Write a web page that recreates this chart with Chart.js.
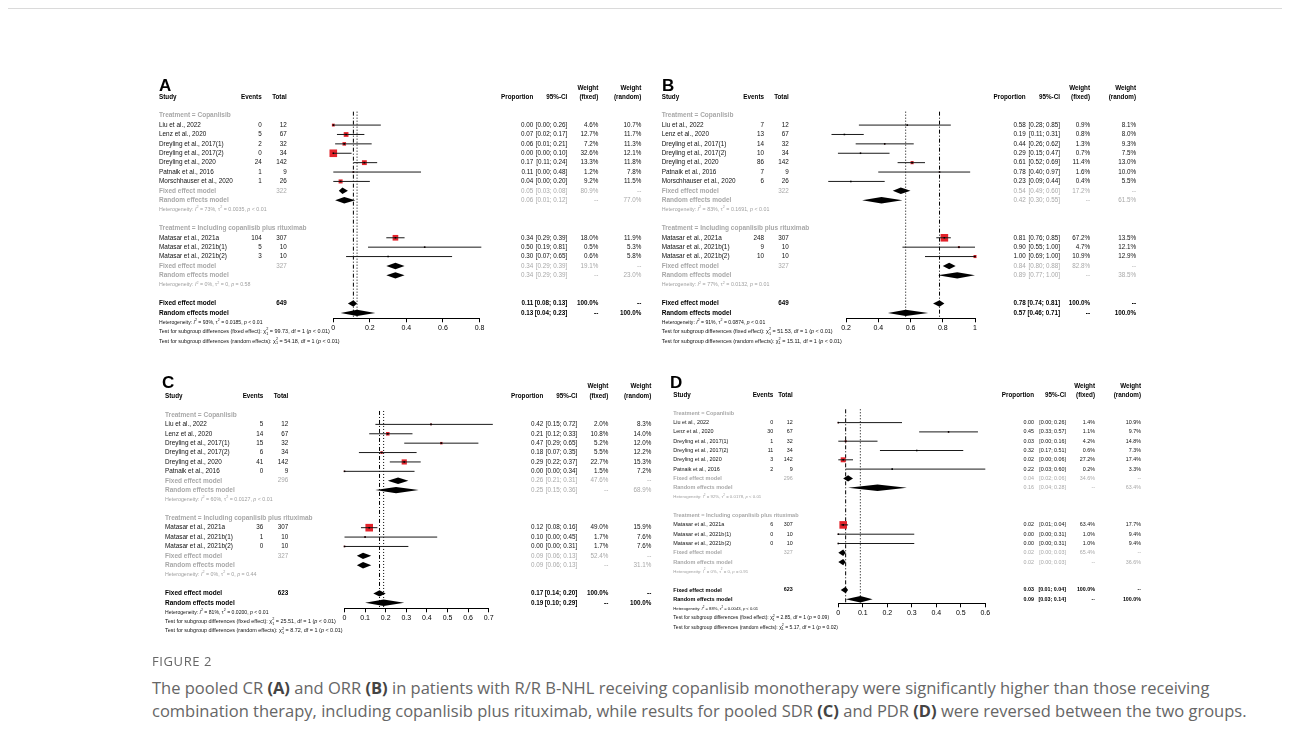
<!DOCTYPE html>
<html><head><meta charset="utf-8">
<script src="https://cdn.jsdelivr.net/npm/chart.js@4.4.1/dist/chart.umd.min.js"></script>
<style>
html,body{margin:0;padding:0;background:#fff;}
body{width:1290px;height:742px;overflow:hidden;position:relative;font-family:'Liberation Sans',Arial,sans-serif;}
canvas{position:absolute;}
#topline{position:absolute;left:8px;right:8px;top:8px;height:0;border-top:1px solid #dadada;}
#figlabel{position:absolute;left:152px;top:652px;font:13px 'Open Sans',sans-serif;color:#666;letter-spacing:0.6px;}
#caption{position:absolute;left:152px;top:676px;font:16.5px/23px 'Open Sans',sans-serif;color:#666;white-space:nowrap;}
#caption b{color:#444;font-weight:700;}
</style></head><body>
<div id="topline"></div>
<canvas id="cA"></canvas><canvas id="cB"></canvas><canvas id="cC"></canvas><canvas id="cD"></canvas>
<div id="figlabel">FIGURE 2</div>
<div id="caption">The pooled CR <b>(A)</b> and ORR <b>(B)</b> in patients with R/R B-NHL receiving copanlisib monotherapy were significantly higher than those receiving<br>combination therapy, including copanlisib plus rituximab, while results for pooled SDR <b>(C)</b> and PDR <b>(D)</b> were reversed between the two groups.</div>
<script>
// ---------------- DATA ----------------
const groupLabels = ["Treatment = Copanlisib", "Treatment = Including copanlisib plus rituximab"];
const studiesAB = ["Liu et al., 2022","Lenz et al., 2020","Dreyling et al., 2017(1)","Dreyling et al., 2017(2)","Dreyling et al., 2020","Patnaik et al., 2016","Morschhauser et al., 2020","Matasar et al., 2021a","Matasar et al., 2021b(1)","Matasar et al., 2021b(2)"];
const studiesCD = ["Liu et al., 2022","Lenz et al., 2020","Dreyling et al., 2017(1)","Dreyling et al., 2017(2)","Dreyling et al., 2020","Patnaik et al., 2016","Matasar et al., 2021a","Matasar et al., 2021b(1)","Matasar et al., 2021b(2)"];
const totalAB = [12,67,32,34,142,9,26,307,10,10];
const totalCD = [12,67,32,34,142,9,307,10,10];
// summary order: subgroup1 fixed, subgroup1 random, subgroup2 fixed, subgroup2 random, overall fixed, overall random

// Panel A (CR)
const A_events = [0,5,2,0,24,1,1,104,5,3];
const A_prop   = [0.00,0.07,0.06,0.00,0.17,0.11,0.04,0.34,0.50,0.30];
const A_lower  = [0.00,0.02,0.01,0.00,0.11,0.00,0.00,0.29,0.19,0.07];
const A_upper  = [0.26,0.17,0.21,0.10,0.24,0.48,0.20,0.39,0.81,0.65];
const A_wFixed = [4.6,12.7,7.2,32.6,13.3,1.2,9.2,18.0,0.5,0.6];
const A_wRandom= [10.7,11.7,11.3,12.1,11.8,7.8,11.5,11.9,5.3,5.8];
const A_sumEst = [0.05,0.06,0.34,0.34,0.11,0.13];
const A_sumLow = [0.03,0.01,0.29,0.29,0.08,0.04];
const A_sumUp  = [0.08,0.12,0.39,0.39,0.13,0.23];
const A_sumW   = [80.9,77.0,19.1,23.0,100.0,100.0];
const A_sumN   = [322,327,649];
const A_hetI2  = ["73%","0%","93%"];
const A_hetTau = ["0.0035","0","0.0185"];
const A_hetP   = ["< 0.01","= 0.58","< 0.01"];
const A_chi2   = ["99.73","54.18"];
const A_chiP   = ["< 0.01","< 0.01"];
const A_ticks  = [0,0.2,0.4,0.6,0.8];

// Panel B (ORR)
const B_events = [7,13,14,10,86,7,6,248,9,10];
const B_prop   = [0.58,0.19,0.44,0.29,0.61,0.78,0.23,0.81,0.90,1.00];
const B_lower  = [0.28,0.11,0.26,0.15,0.52,0.40,0.09,0.76,0.55,0.69];
const B_upper  = [0.85,0.31,0.62,0.47,0.69,0.97,0.44,0.85,1.00,1.00];
const B_wFixed = [0.9,0.8,1.3,0.7,11.4,1.6,0.4,67.2,4.7,10.9];
const B_wRandom= [8.1,8.0,9.3,7.5,13.0,10.0,5.5,13.5,12.1,12.9];
const B_sumEst = [0.54,0.42,0.84,0.89,0.78,0.57];
const B_sumLow = [0.49,0.30,0.80,0.77,0.74,0.46];
const B_sumUp  = [0.60,0.55,0.88,1.00,0.81,0.71];
const B_sumW   = [17.2,61.5,82.8,38.5,100.0,100.0];
const B_sumN   = [322,327,649];
const B_hetI2  = ["83%","77%","91%"];
const B_hetTau = ["0.1691","0.0132","0.0874"];
const B_hetP   = ["< 0.01","= 0.01","< 0.01"];
const B_chi2   = ["51.53","15.11"];
const B_chiP   = ["< 0.01","< 0.01"];
const B_ticks  = [0.2,0.4,0.6,0.8,1];

// Panel C (SDR)
const C_events = [5,14,15,6,41,0,36,1,0];
const C_prop   = [0.42,0.21,0.47,0.18,0.29,0.00,0.12,0.10,0.00];
const C_lower  = [0.15,0.12,0.29,0.07,0.22,0.00,0.08,0.00,0.00];
const C_upper  = [0.72,0.33,0.65,0.35,0.37,0.34,0.16,0.45,0.31];
const C_wFixed = [2.0,10.8,5.2,5.5,22.7,1.5,49.0,1.7,1.7];
const C_wRandom= [8.3,14.0,12.0,12.2,15.3,7.2,15.9,7.6,7.6];
const C_sumEst = [0.26,0.25,0.09,0.09,0.17,0.19];
const C_sumLow = [0.21,0.15,0.06,0.06,0.14,0.10];
const C_sumUp  = [0.31,0.36,0.13,0.13,0.20,0.29];
const C_sumW   = [47.6,68.9,52.4,31.1,100.0,100.0];
const C_sumN   = [296,327,623];
const C_hetI2  = ["60%","0%","81%"];
const C_hetTau = ["0.0127","0","0.0200"];
const C_hetP   = ["< 0.01","= 0.44","< 0.01"];
const C_chi2   = ["25.51","8.72"];
const C_chiP   = ["< 0.01","< 0.01"];
const C_ticks  = [0,0.1,0.2,0.3,0.4,0.5,0.6,0.7];

// Panel D (PDR)
const D_events = [0,30,1,11,3,2,6,0,0];
const D_prop   = [0.00,0.45,0.03,0.32,0.02,0.22,0.02,0.00,0.00];
const D_lower  = [0.00,0.33,0.00,0.17,0.00,0.03,0.01,0.00,0.00];
const D_upper  = [0.26,0.57,0.16,0.51,0.06,0.60,0.04,0.31,0.31];
const D_wFixed = [1.4,1.1,4.2,0.6,27.2,0.2,63.4,1.0,1.0];
const D_wRandom= [10.9,9.7,14.8,7.3,17.4,3.3,17.7,9.4,9.4];
const D_sumEst = [0.04,0.16,0.02,0.02,0.03,0.09];
const D_sumLow = [0.02,0.04,0.00,0.00,0.01,0.03];
const D_sumUp  = [0.06,0.28,0.03,0.03,0.04,0.14];
const D_sumW   = [34.6,63.4,65.4,36.6,100.0,100.0];
const D_sumN   = [296,327,623];
const D_hetI2  = ["92%","0%","88%"];
const D_hetTau = ["0.0178","0","0.0043"];
const D_hetP   = ["< 0.01","= 0.91","< 0.01"];
const D_chi2   = ["2.85","5.17"];
const D_chiP   = ["= 0.09","= 0.02"];
const D_ticks  = [0,0.1,0.2,0.3,0.4,0.5,0.6];

// ---------------- LAYOUT ----------------
const FF = "'Liberation Sans', Arial, sans-serif";
const RED = '#e3232b', GRAY = '#a8a8a8', HGRAY = '#a0a0a0';

const panels = [
 {id:'cA', letter:'A', box:{l:150,t:72,w:500,h:280}, plotL:333.3, plotR:479.5, axisY:318.3, row0:115.7, rowH:9.39,
  letterX:159, letterBase:90.5, weightY:88.6, headerY:97.3, fsBody:1, fsHet:1, fsTest:1,
  cols:{study:159, events:261.7, total:286.7, prop:533.3, ci:567.3, wf:598.3, wr:641.3},
  names:studiesAB, n1:7, events:A_events, total:totalAB, prop:A_prop, lower:A_lower, upper:A_upper, wF:A_wFixed, wR:A_wRandom,
  sEst:A_sumEst, sLow:A_sumLow, sUp:A_sumUp, sW:A_sumW, sN:A_sumN, hI2:A_hetI2, hTau:A_hetTau, hP:A_hetP, chi:A_chi2, chiP:A_chiP, ticks:A_ticks},
 {id:'cB', letter:'B', box:{l:652,t:72,w:500,h:280}, plotL:846, plotR:975, axisY:318.3, row0:115.7, rowH:9.39,
  letterX:662, letterBase:90.5, weightY:88.6, headerY:97.3, fsBody:1, fsHet:1, fsTest:1,
  cols:{study:661.7, events:764, total:788.7, prop:1025.7, ci:1060, wf:1090, wr:1136},
  names:studiesAB, n1:7, events:B_events, total:totalAB, prop:B_prop, lower:B_lower, upper:B_upper, wF:B_wFixed, wR:B_wRandom,
  sEst:B_sumEst, sLow:B_sumLow, sUp:B_sumUp, sW:B_sumW, sN:B_sumN, hI2:B_hetI2, hTau:B_hetTau, hP:B_hetP, chi:B_chi2, chiP:B_chiP, ticks:B_ticks},
 {id:'cC', letter:'C', box:{l:150,t:368,w:512,h:285}, plotL:344.5, plotR:488.7, axisY:608.3, row0:415, rowH:9.39,
  letterX:162, letterBase:388, weightY:386.5, headerY:396, fsBody:1, fsHet:1, fsTest:1,
  cols:{study:165, events:263.3, total:288.3, prop:543.3, ci:577.3, wf:608.3, wr:651.3},
  names:studiesCD, n1:6, events:C_events, total:totalCD, prop:C_prop, lower:C_lower, upper:C_upper, wF:C_wFixed, wR:C_wRandom,
  sEst:C_sumEst, sLow:C_sumLow, sUp:C_sumUp, sW:C_sumW, sN:C_sumN, hI2:C_hetI2, hTau:C_hetTau, hP:C_hetP, chi:C_chi2, chiP:C_chiP, ticks:C_ticks},
 {id:'cD', letter:'D', box:{l:652,t:368,w:500,h:285}, plotL:838.3, plotR:985.3, axisY:603.3, row0:413.3, rowH:9.30,
  letterX:670, letterBase:388, weightY:386.3, headerY:395.7, fsBody:0.85, fsHet:0.82, fsTest:0.93,
  cols:{study:673.3, events:773.3, total:792.7, prop:1034, ci:1066, wf:1095, wr:1141},
  names:studiesCD, n1:6, events:D_events, total:totalCD, prop:D_prop, lower:D_lower, upper:D_upper, wF:D_wFixed, wR:D_wRandom,
  sEst:D_sumEst, sLow:D_sumLow, sUp:D_sumUp, sW:D_sumW, sN:D_sumN, hI2:D_hetI2, hTau:D_hetTau, hP:D_hetP, chi:D_chi2, chiP:D_chiP, ticks:D_ticks}
];

const f2 = v => v.toFixed(2);
const fci = (a,b) => `[${a.toFixed(2)}; ${b.toFixed(2)}]`;
const fpc = w => w.toFixed(1) + '%';

function rowsOf(n1){
  return {head1:0, fix1:n1+1, ran1:n1+2, het1:n1+3, head2:n1+5, fix2:n1+9, ran2:n1+10, het2:n1+11,
          fixAll:n1+13, ranAll:n1+14, hetAll:n1+15, test1:n1+16, test2:n1+17,
          study: i => i < n1 ? 1 + i : n1 + 6 + (i - n1)};
}

function drawSegs(ctx, x, y, segs, size, color){
  let cx = x; ctx.fillStyle = color; ctx.textAlign = 'left'; ctx.textBaseline = 'middle';
  for (const [s, st] of segs){
    if (st === 'i'){ ctx.font = `italic ${size}px ${FF}`; ctx.fillText(s, cx, y); cx += ctx.measureText(s).width; }
    else if (st === '^'){ ctx.font = `${size*0.7}px ${FF}`; ctx.fillText(s, cx, y - size*0.42); cx += ctx.measureText(s).width; }
    else if (st === '^_'){ const [a,b] = s.split(','); ctx.font = `${size*0.7}px ${FF}`;
      ctx.fillText(a, cx, y - size*0.42); ctx.fillText(b, cx, y + size*0.38);
      cx += Math.max(ctx.measureText(a).width, ctx.measureText(b).width); }
    else { ctx.font = `${size}px ${FF}`; ctx.fillText(s, cx, y); cx += ctx.measureText(s).width; }
  }
}
const hetSegs = (i2, tau, p) => [["Heterogeneity: ",""],["I","i"],["2","^"],[" = "+i2+", ",""],["\u03c4",""],["2","^"],[" = "+tau+", ",""],["p","i"],[" "+p,""]];
const testSegs = (kind, chi, p) => [["Test for subgroup differences ("+kind+"): ",""],["\u03c7",""],["2,1","^_"],[" = "+chi+", df = 1 (",""],["p","i"],[" "+p+")",""]];

function drawText(chart, c){
  const ctx = chart.ctx, ys = chart.scales.y;
  const X = a => a - c.box.l, Ya = a => a - c.box.t, ry = r => ys.getPixelForValue(r);
  const R = rowsOf(c.n1), K = c.cols, s = c.fsBody;
  ctx.save();
  const t = (str, ax, y, align, font, color) => { ctx.font = font; ctx.fillStyle = color; ctx.textAlign = align; ctx.textBaseline = 'middle'; ctx.fillText(str, X(ax), y); };
  // panel letter
  ctx.font = `bold 17px ${FF}`; ctx.fillStyle = '#000'; ctx.textAlign = 'left'; ctx.textBaseline = 'alphabetic';
  ctx.fillText(c.letter, X(c.letterX), Ya(c.letterBase));
  // headers
  const HB = `bold 6.3px ${FF}`, hy = Ya(c.headerY), wy = Ya(c.weightY);
  t('Study', K.study, hy, 'left', HB, '#000');
  t('Events', K.events, hy, 'right', HB, '#000');
  t('Total', K.total, hy, 'right', HB, '#000');
  t('Proportion', K.prop, hy, 'right', HB, '#000');
  t('95%-CI', K.ci, hy, 'right', HB, '#000');
  t('Weight', K.wf, wy, 'right', HB, '#000'); t('(fixed)', K.wf, hy, 'right', HB, '#000');
  t('Weight', K.wr, wy, 'right', HB, '#000'); t('(random)', K.wr, hy, 'right', HB, '#000');
  const NR = `${6.4*s}px ${FF}`, NB = `bold ${6.5*s}px ${FF}`, VR = `${6.3*s}px ${FF}`, VB = `bold ${6.3*s}px ${FF}`;
  // studies
  c.names.forEach((n, i) => {
    const y = ry(R.study(i));
    t(n, K.study, y, 'left', NR, '#111');
    t(String(c.events[i]), K.events, y, 'right', VR, '#111');
    t(String(c.total[i]), K.total, y, 'right', VR, '#111');
    t(f2(c.prop[i]), K.prop, y, 'right', VR, '#111');
    t(fci(c.lower[i], c.upper[i]), K.ci, y, 'right', VR, '#111');
    t(fpc(c.wF[i]), K.wf, y, 'right', VR, '#111');
    t(fpc(c.wR[i]), K.wr, y, 'right', VR, '#111');
  });
  // subgroups
  [[R.head1,R.fix1,R.ran1,R.het1,0],[R.head2,R.fix2,R.ran2,R.het2,1]].forEach(([h,f,r,he,g]) => {
    t(groupLabels[g], K.study, ry(h), 'left', NB, GRAY);
    let y = ry(f);
    t('Fixed effect model', K.study, y, 'left', NB, GRAY);
    t(String(c.sN[g]), K.total, y, 'right', VR, GRAY);
    t(f2(c.sEst[2*g]), K.prop, y, 'right', VR, GRAY);
    t(fci(c.sLow[2*g], c.sUp[2*g]), K.ci, y, 'right', VR, GRAY);
    t(fpc(c.sW[2*g]), K.wf, y, 'right', VR, GRAY);
    t('--', K.wr, y, 'right', VR, GRAY);
    y = ry(r);
    t('Random effects model', K.study, y, 'left', NB, GRAY);
    t(f2(c.sEst[2*g+1]), K.prop, y, 'right', VR, GRAY);
    t(fci(c.sLow[2*g+1], c.sUp[2*g+1]), K.ci, y, 'right', VR, GRAY);
    t('--', K.wf, y, 'right', VR, GRAY);
    t(fpc(c.sW[2*g+1]), K.wr, y, 'right', VR, GRAY);
    drawSegs(ctx, X(K.study), ry(he), hetSegs(c.hI2[g], c.hTau[g], c.hP[g]), 5.3*c.fsHet, HGRAY);
  });
  // overall
  let y = ry(R.fixAll);
  t('Fixed effect model', K.study, y, 'left', NB, '#000');
  t(String(c.sN[2]), K.total, y, 'right', VB, '#000');
  t(f2(c.sEst[4]), K.prop, y, 'right', VB, '#000');
  t(fci(c.sLow[4], c.sUp[4]), K.ci, y, 'right', VB, '#000');
  t(fpc(c.sW[4]), K.wf, y, 'right', VB, '#000');
  t('--', K.wr, y, 'right', VB, '#000');
  y = ry(R.ranAll);
  t('Random effects model', K.study, y, 'left', NB, '#000');
  t(f2(c.sEst[5]), K.prop, y, 'right', VB, '#000');
  t(fci(c.sLow[5], c.sUp[5]), K.ci, y, 'right', VB, '#000');
  t('--', K.wf, y, 'right', VB, '#000');
  t(fpc(c.sW[5]), K.wr, y, 'right', VB, '#000');
  drawSegs(ctx, X(K.study), ry(R.hetAll), hetSegs(c.hI2[2], c.hTau[2], c.hP[2]), 5.1*c.fsHet, '#111');
  drawSegs(ctx, X(K.study), ry(R.test1), testSegs('fixed effect', c.chi[0], c.chiP[0]), 5.45*c.fsTest, '#111');
  drawSegs(ctx, X(K.study), ry(R.test2), testSegs('random effects', c.chi[1], c.chiP[1]), 5.45*c.fsTest, '#111');
  ctx.restore();
}

function drawDiamonds(chart, c){
  const ctx = chart.ctx, xs = chart.scales.x, ys = chart.scales.y, R = rowsOf(c.n1);
  const rows = [R.fix1, R.ran1, R.fix2, R.ran2, R.fixAll, R.ranAll];
  ctx.save(); ctx.fillStyle = '#000';
  rows.forEach((r, k) => {
    const yc = ys.getPixelForValue(r), h = 3.2;
    const xl = xs.getPixelForValue(c.sLow[k]), xe = xs.getPixelForValue(c.sEst[k]), xh = xs.getPixelForValue(c.sUp[k]);
    ctx.beginPath(); ctx.moveTo(xl, yc); ctx.lineTo(xe, yc - h); ctx.lineTo(xh, yc); ctx.lineTo(xe, yc + h); ctx.closePath(); ctx.fill();
  });
  ctx.restore();
}

function build(c){
  const cv = document.getElementById(c.id);
  cv.width = c.box.w; cv.height = c.box.h;
  cv.style.left = c.box.l + 'px'; cv.style.top = c.box.t + 'px';
  cv.style.width = c.box.w + 'px'; cv.style.height = c.box.h + 'px';
  const R = rowsOf(c.n1);
  const axisRow = (c.axisY - c.row0) / c.rowH;
  const AXH = 16;
  const ds = [];
  ds.push({data:[{x:c.sEst[4], y:-0.43},{x:c.sEst[4], y:axisRow}], showLine:true, borderColor:'#000', borderWidth:1, borderDash:[4,2,1,2], pointRadius:0, order:6, clip:false});
  ds.push({data:[{x:c.sEst[5], y:-0.43},{x:c.sEst[5], y:axisRow}], showLine:true, borderColor:'#000', borderWidth:1, borderDash:[1,2], pointRadius:0, order:6, clip:false});
  c.names.forEach((n, i) => {
    ds.push({data:[{x:c.lower[i], y:R.study(i)},{x:c.upper[i], y:R.study(i)}], showLine:true, borderColor:'#1a1a1a', borderWidth:1, pointRadius:0, order:2, clip:false});
  });
  const wmax = Math.max(...c.wF);
  const pts = c.names.map((n, i) => ({x:c.prop[i], y:R.study(i)}));
  ds.push({data:pts, pointStyle:'rect', pointRadius:c.wF.map(w => 7.6*Math.sqrt(w/wmax)/Math.SQRT2), backgroundColor:RED, borderWidth:0, order:3, clip:false});
  ds.push({data:pts, pointStyle:'rect', pointRadius:1.1, backgroundColor:'#000', borderWidth:0, order:1, clip:false});
  const minX = c.ticks[0], maxX = c.ticks[c.ticks.length-1];
  new Chart(cv, {
    type:'scatter',
    data:{datasets:ds},
    options:{
      responsive:false, maintainAspectRatio:false, animation:false, devicePixelRatio:1, events:[],
      layout:{padding:{left:c.plotL - c.box.l, right:c.box.l + c.box.w - c.plotR, top:c.row0 - c.rowH - c.box.t, bottom:c.box.t + c.box.h - c.axisY - AXH}},
      scales:{
        x:{type:'linear', position:'bottom', min:minX, max:maxX,
           afterBuildTicks:s => { s.ticks = c.ticks.map(v => ({value:v})); },
           afterFit:s => { s.height = AXH; },
           grid:{drawOnChartArea:false, drawTicks:true, tickLength:4, color:'#000', tickColor:'#000', lineWidth:1},
           border:{display:true, color:'#000', width:1},
           ticks:{color:'#000', font:{family:FF, size:7}, padding:2, maxRotation:0, autoSkip:false, callback:v => String(+(+v).toFixed(2))}},
        y:{type:'linear', display:false, reverse:true, min:-1, max:axisRow}
      },
      plugins:{legend:{display:false}, tooltip:{enabled:false}}
    },
    plugins:[
      {id:'diamonds', afterDatasetsDraw(chart){ drawDiamonds(chart, c); }},
      {id:'forestText', afterDraw(chart){ drawText(chart, c); }}
    ]
  });
}
panels.forEach(build);
</script>
</body></html>
